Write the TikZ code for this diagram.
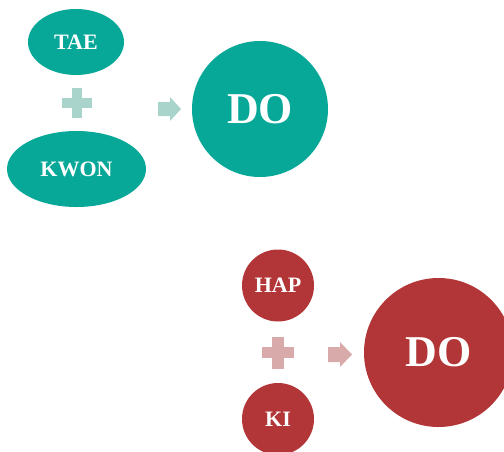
\documentclass[tikz,border=0pt]{standalone}
\usepackage{fontspec}
\setmainfont{Liberation Serif}
\usetikzlibrary{shapes.geometric}
\definecolor{teal1}{HTML}{07A898}
\definecolor{teal2}{HTML}{A9D4CB}
\definecolor{red1}{HTML}{B23537}
\definecolor{red2}{HTML}{D9AAAA}
\tikzset{
  blob/.style={inner sep=0pt, text=white, font=\bfseries\fontsize{22}{24}\selectfont},
  big/.style={circle, inner sep=0pt, text=white, font=\bfseries\fontsize{44}{48}\selectfont},
}
\newcommand{\plusshape}[4]{% cx cy half colour
  \fill[#4] (#1-#3/2.9,#2-#3) rectangle (#1+#3/2.9,#2+#3);
  \fill[#4] (#1-#3,#2-#3/2.9) rectangle (#1+#3,#2+#3/2.9);
}
\begin{document}
\begin{tikzpicture}[x=1pt,y=-1pt]
\useasboundingbox (0,0) rectangle (504,451);
\clip (0,0) rectangle (504,451);
% top group
\node[blob, ellipse, fill=teal1, minimum width=96pt, minimum height=66pt] (tae) at (76,42) {TAE};
\node[blob, ellipse, fill=teal1, minimum width=139pt, minimum height=76pt] (kwon) at (76.5,169) {KWON};
\node[big, fill=teal1, minimum size=136pt] (do1) at (260,109) {DO};
\plusshape{77}{103}{15}{teal2}
\fill[teal2] (158,102) -- (170,102) -- (170,97) -- (181,109) -- (170,121) -- (170,116) -- (158,116) -- cycle;
% bottom group
\node[blob, circle, fill=red1, minimum size=72pt] (hap) at (278,285.5) {HAP};
\node[blob, circle, fill=red1, minimum size=72pt] (ki) at (278,419) {KI};
\node[big, fill=red1, minimum size=149pt] (do2) at (438.5,352.5) {DO};
\plusshape{278}{352.5}{16}{red2}
\fill[red2] (328,347) -- (340,347) -- (340,342) -- (352,354.5) -- (340,367) -- (340,362) -- (328,362) -- cycle;
\end{tikzpicture}
\end{document}
